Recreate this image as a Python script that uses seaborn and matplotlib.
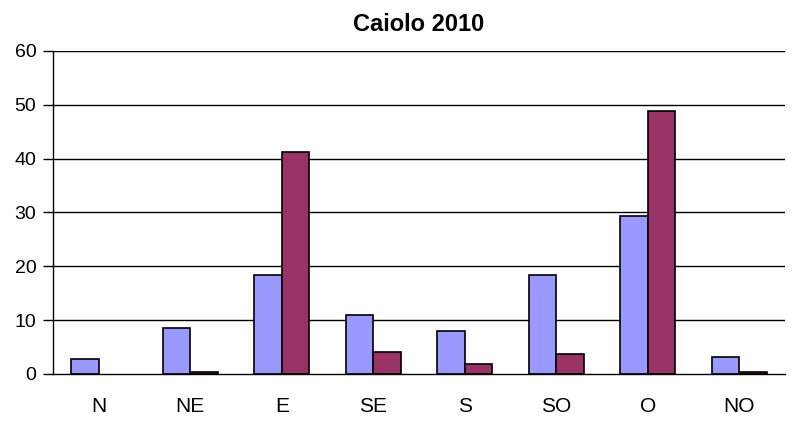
import matplotlib
matplotlib.use("Agg")
import matplotlib.pyplot as plt
import numpy as np
import pandas as pd
import seaborn as sns

# 方向类别与两组数值
directions = ["N", "NE", "E", "SE", "S", "SO", "O", "NO"]
serie_1 = [2.7, 8.6, 18.4, 10.9, 8.0, 18.4, 29.4, 3.2]
serie_2 = [np.nan, 0.3, 41.2, 4.1, 1.8, 3.6, 48.8, 0.3]
y_ticks = [0, 10, 20, 30, 40, 50, 60]

sns.set_style("white")
plt.rcParams["font.family"] = ["Liberation Sans", "DejaVu Sans"]
plt.rcParams["text.color"] = "black"
plt.rcParams["xtick.color"] = "black"
plt.rcParams["ytick.color"] = "black"

df = pd.DataFrame({
    "dir": directions * 2,
    "val": serie_1 + serie_2,
    "serie": ["s1"] * len(directions) + ["s2"] * len(directions),
})

fig = plt.figure(figsize=(7.92, 4.21), dpi=100)
ax = fig.add_axes([0.067, 0.112, 0.924, 0.767])

sns.barplot(data=df, x="dir", y="val", hue="serie", order=directions,
            palette={"s1": "#9999FF", "s2": "#993366"}, width=0.6,
            edgecolor="black", linewidth=1.2, saturation=1, legend=False, ax=ax)

ax.set_ylim(0, 60)
ax.set_xlim(-0.5, len(directions) - 0.5)
ax.set_yticks(y_ticks)
for y in y_ticks[1:]:
    ax.axhline(y, color="black", lw=1, zorder=0)

# 类别刻度线在组间边界
ax.set_xticks(np.arange(-0.5, len(directions), 1), minor=True)
ax.tick_params(axis="x", which="major", length=0, labelsize=15, pad=17)
ax.tick_params(axis="x", which="minor", length=6, width=1, color="black",
               direction="out")
ax.tick_params(axis="y", length=7, width=1, color="black", labelsize=14,
               direction="out", left=True, pad=5)

for s in ["top", "right"]:
    ax.spines[s].set_visible(False)
for s in ["left", "bottom"]:
    ax.spines[s].set_color("black")
    ax.spines[s].set_linewidth(1)

ax.set_xlabel("")
ax.set_ylabel("")
ax.set_title("Caiolo 2010", fontsize=17, fontweight="bold", pad=14)

fig.savefig("out.png", dpi=100)
